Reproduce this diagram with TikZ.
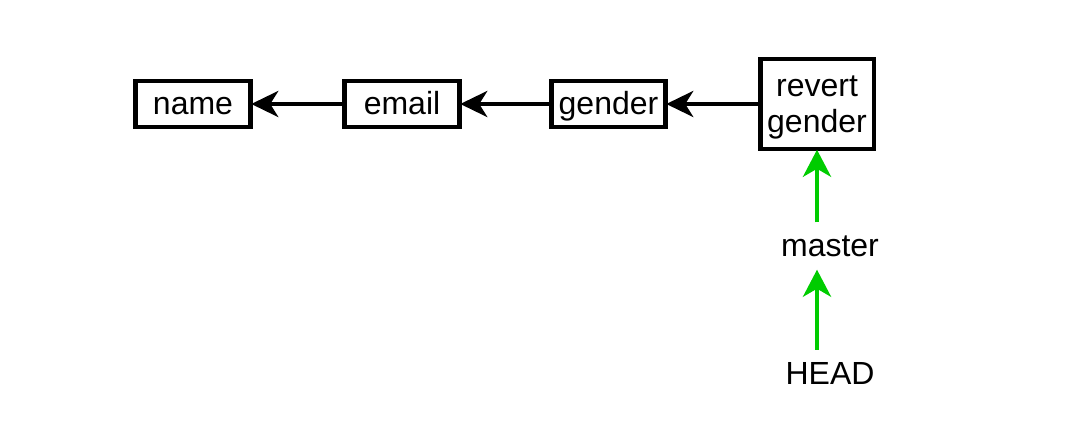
\documentclass[tikz,border=0pt]{standalone}
\usepackage{fontspec}
\setmainfont{Liberation Sans}
\usetikzlibrary{arrows.meta}
\definecolor{ptrgreen}{HTML}{00CC00}
\begin{document}
\begin{tikzpicture}[x=1pt,y=-1pt,
  commit/.style={draw=black, line width=4.5pt, fill=white, inner sep=0pt, minimum height=46pt,
    font=\fontsize{32}{36}\selectfont, text height=25.5pt, text depth=5pt},
  boxtext/.style={inner sep=0pt, font=\fontsize{32}{36}\selectfont, align=center},
  label/.style={inner xsep=0pt, font=\fontsize{32}{36}\selectfont},
  parentarrow/.style={draw=black, line width=4pt, -{Stealth[length=27pt, width=26pt, inset=8pt]}},
  refarrow/.style={draw=ptrgreen, line width=4.5pt, -{Stealth[length=27pt, width=28pt, inset=8pt]}}]
\useasboundingbox (0,0) rectangle (1068,425);
\node[commit, minimum width=115pt] (name) at (193,104) {name};
\node[commit, minimum width=115pt] (email) at (402,104) {email};
\node[commit, minimum width=114pt] (gender) at (608.5,104) {gender};
\node[commit, minimum width=113.5pt, minimum height=90pt] (revert) at (817,104) {};
\node[boxtext] (revertlabel) at (817,107.5) {revert\\gender};
\node[label, inner ysep=13pt] (master) at (830,246) {master};
\node[label, inner ysep=12pt] (head) at (830,373) {HEAD};
\draw[parentarrow, shorten >=-1.5pt] (email.west) -- (name.east);
\draw[parentarrow, shorten >=-1.5pt] (gender.west) -- (email.east);
\draw[parentarrow, shorten >=-1.5pt] (revert.west) -- (gender.east);
\draw[refarrow, shorten >=-1.5pt] (master.north -| revert.south) -- (revert.south);
\draw[refarrow] (head.north -| revert.south) -- (master.south -| revert.south);
\end{tikzpicture}
\end{document}
